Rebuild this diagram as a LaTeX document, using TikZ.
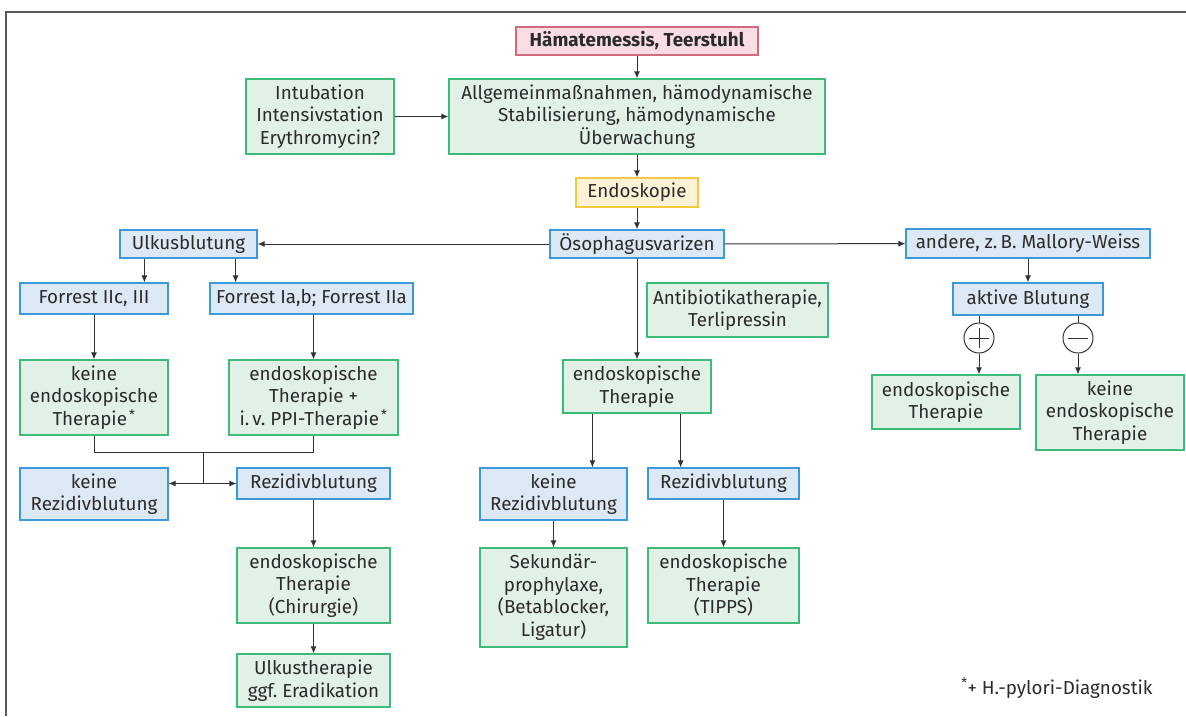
\documentclass[tikz,border=0pt]{standalone}
\usepackage{fontspec}
\setmainfont{Fira Sans}
\usetikzlibrary{arrows.meta,calc}

\definecolor{txt}{HTML}{2B2B2B}
\definecolor{lnc}{HTML}{333333}
\definecolor{grnD}{HTML}{3DBB7A}
\definecolor{grnL}{HTML}{E2F1E6}
\definecolor{bluD}{HTML}{3A9AD9}
\definecolor{bluL}{HTML}{DDE8F5}
\definecolor{redD}{HTML}{D06A80}
\definecolor{redL}{HTML}{F9DDE2}
\definecolor{yelD}{HTML}{F5C842}
\definecolor{yelL}{HTML}{FDF1D6}

\newcommand{\hpnote}{\textsuperscript{\,*}}

\begin{document}
\frenchspacing
\begin{tikzpicture}[x=1pt,y=-1pt,
	font=\fontsize{18.8}{22.5}\selectfont, text=txt,
	box/.style={draw, line width=1.2pt, inner sep=0pt, align=center},
	gbox/.style={box, draw=grnD, fill=grnL},
	bbox/.style={box, draw=bluD, fill=bluL},
	arr/.style={draw=lnc, line width=1pt, -{Latex[length=7pt,width=6pt]}},
	ln/.style={draw=lnc, line width=1pt},
	sign/.style={circle, draw=lnc, line width=1pt, minimum size=30pt, inner sep=0pt}]
	\useasboundingbox (0,0) rectangle (1186,716);
	
	% frame
	\draw[line width=1.5pt, gray!70!black] (1186,12) -- (6,12) -- (6,716);
	
	% top
	\node[box, draw=redD, fill=redL, minimum width=242pt, minimum height=28pt, font=\fontsize{18.8}{22.5}\selectfont\bfseries] (haem) at (637,41) {Hämatemessis, Teerstuhl};
	\node[gbox, minimum width=148pt, minimum height=75pt] (intub) at (320,116.5) {Intubation\\Intensivstation\\Erythromycin?};
	\node[gbox, minimum width=376pt, minimum height=75pt] (allg) at (637,116.5) {Allgemeinmaßnahmen, hämodynamische\\Stabilisierung, hämodynamische\\Überwachung};
	\node[box, draw=yelD, fill=yelL, minimum width=122pt, minimum height=29pt] (endo) at (637,192.5) {Endoskopie};
	\node[bbox, minimum width=174pt, minimum height=28pt] (oeso) at (637,244) {Ösophagusvarizen};
	
	% left branch
	\node[bbox, minimum width=137pt, minimum height=28pt] (ulkus) at (188.5,244) {Ulkusblutung};
	\node[bbox, minimum width=148pt, minimum height=31pt] (forrA) at (94,298.5) {Forrest IIc, III};
	\node[bbox, minimum width=203pt, minimum height=31pt] (forrB) at (311.5,298.5) {Forrest Ia,b; Forrest IIa};
	\node[gbox, minimum width=148pt, minimum height=75pt] (keinEndoL) at (94,397.5) {keine\\endoskopische\\Therapie\hpnote};
	\node[gbox, minimum width=169pt, minimum height=75pt] (endoPPI) at (313.5,397.5) {endoskopische\\Therapie +\\i.\,v. PPI-Therapie\hpnote};
	\node[bbox, minimum width=148pt, minimum height=52pt] (keinRezL) at (94,494) {keine\\Rezidivblutung};
	\node[bbox, minimum width=153pt, minimum height=31pt] (rezL) at (313.5,483.5) {Rezidivblutung};
	\node[gbox, minimum width=153pt, minimum height=75pt] (chir) at (313.5,585.5) {endoskopische\\Therapie\\(Chirurgie)};
	\node[gbox, minimum width=153pt, minimum height=53pt] (ulkTh) at (313.5,680.5) {Ulkustherapie\\ggf. Eradikation};
	
	% middle branch
	\node[gbox, minimum width=181pt, minimum height=54pt] (antib) at (737.5,310) {Antibiotikatherapie,\\Terlipressin};
	\node[gbox, minimum width=148pt, minimum height=53pt] (endoM) at (637,386.5) {endoskopische\\Therapie};
	\node[bbox, minimum width=147pt, minimum height=52pt] (keinRezM) at (553.5,494) {keine\\Rezidivblutung};
	\node[bbox, minimum width=151pt, minimum height=31pt] (rezM) at (723.5,483.5) {Rezidivblutung};
	\node[gbox, minimum width=147pt, minimum height=99pt] (sek) at (553.5,597.5) {Sekundär-\\prophylaxe,\\(Betablocker,\\Ligatur)};
	\node[gbox, minimum width=151pt, minimum height=75pt] (tipps) at (723.5,585.5) {endoskopische\\Therapie\\(TIPPS)};
	
	% right branch
	\node[bbox, minimum width=244pt, minimum height=29pt] (andere) at (1028,243.5) {andere, z.\,B. Mallory-Weiss};
	\node[bbox, minimum width=150pt, minimum height=32pt] (aktiv) at (1028,299) {aktive Blutung};
	\node[sign] (plus) at (979,338) {};
	\node[sign] (minus) at (1078,338) {};
	\node[gbox, minimum width=148pt, minimum height=54pt] (endoR) at (946,402) {endoskopische\\Therapie};
	\node[gbox, minimum width=148pt, minimum height=75pt] (keinEndoR) at (1110,412.5) {keine\\endoskopische\\Therapie};
	
	\node[anchor=east] (foot) at (1156,688) {\textsuperscript{*}+ H.-pylori-Diagnostik};
	
	% connectors
	\draw[arr] (haem) -- (allg);
	\draw[arr] (intub) -- (allg);
	\draw[arr] (allg) -- (endo);
	\draw[arr] (endo) -- (oeso);
	\draw[arr] (oeso) -- (ulkus);
	\draw[arr] (oeso) -- (andere);
	\draw[arr] (oeso) -- (endoM);
	
	\draw[arr] ([xshift=25pt]ulkus.south west) -- ([xshift=25pt]ulkus.south west |- forrA.north);
	\draw[arr] ([xshift=-22pt]ulkus.south east) -- ([xshift=-22pt]ulkus.south east |- forrB.north);
	\draw[arr] (forrA) -- (keinEndoL);
	\draw[arr] (endoPPI.north |- forrB.south) -- (endoPPI.north);
	\coordinate (jn) at (203,452);
	\coordinate (jd) at (203,483.5);
	\draw[ln] (keinEndoL.south) |- (jn) -| (endoPPI.south);
	\draw[ln] (jn) -- (jd);
	\draw[arr] (jd) -- (keinRezL.east |- jd);
	\draw[arr] (jd) -- (rezL.west);
	\draw[arr] (rezL) -- (chir);
	\draw[arr] (chir) -- (ulkTh);
	
	\draw[arr] ([xshift=30pt]endoM.south west) -- ([xshift=30pt]endoM.south west |- keinRezM.north);
	\draw[arr] ([xshift=-31pt]endoM.south east) -- ([xshift=-31pt]endoM.south east |- rezM.north);
	\draw[arr] (keinRezM) -- (sek);
	\draw[arr] (rezM) -- (tipps);
	
	\draw[arr] (andere) -- (aktiv);
	\draw[ln] (plus |- aktiv.south) -- (plus);
	\draw[ln] (minus |- aktiv.south) -- (minus);
	\draw[arr] (plus) -- (plus |- endoR.north);
	\draw[arr] (minus) -- (minus |- keinEndoR.north);
	\draw[ln] ([xshift=-10pt]plus.center) -- ([xshift=10pt]plus.center)
		([yshift=-10pt]plus.center) -- ([yshift=10pt]plus.center);
	\draw[ln] ([xshift=-10pt]minus.center) -- ([xshift=10pt]minus.center);
\end{tikzpicture}
\end{document}
